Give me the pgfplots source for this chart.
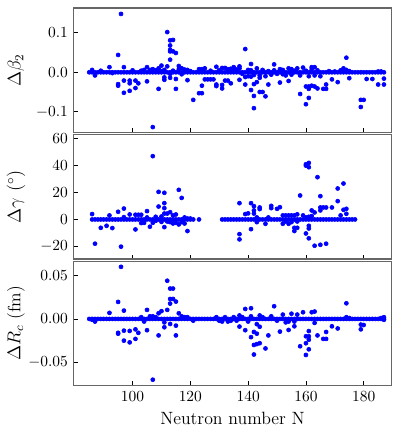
\documentclass[border=0pt]{standalone}
\usepackage{pgfplots}
\pgfplotsset{compat=1.18}
\usepgfplotslibrary{groupplots}

\begin{document}
\begin{tikzpicture}
\pgfplotsset{dot/.style={only marks, mark=*, mark size=1.3pt, color=blue, mark options={draw=none, fill=blue}}}
\begin{groupplot}[
    group style={group size=1 by 3, vertical sep=1.3pt, xticklabels at=edge bottom},
    width=206pt, height=80.6pt, scale only axis,
    xmin=79.5, xmax=189.7,
    xtick={100,120,140,160,180},
    tick align=inside, tick pos=left,
    major tick length=2.8pt,
    axis line style={black!60, line width=0.9pt},
    every tick/.style={black, line width=0.5pt},
    label style={font=\fontsize{11.5}{13}\selectfont},
    ylabel style={at={(axis description cs:-0.18,0.5)}, anchor=center},
    scaled y ticks=false,
]
% top: delta beta_2
\nextgroupplot[ymin=-0.153, ymax=0.163, ytick={-0.1,0,0.1},
    yticklabel style={/pgf/number format/fixed, /pgf/number format/fixed zerofill, /pgf/number format/precision=1},
    ylabel={$\Delta\beta_2$}]
\addplot[dot] coordinates {
(85,0)(86,0)(87,0)(88,0)(89,0)(90,0)(91,0)(92,0)(93,0)(94,0)(95,0)(96,0)(97,0)(98,0)(99,0)
(100,0)(101,0)(102,0)(103,0)(104,0)(105,0)(106,0)(107,0)(108,0)(109,0)(110,0)(111,0)(112,0)(113,0)(114,0)
(115,0)(116,0)(117,0)(118,0)(119,0)(120,0)(121,0)(122,0)(123,0)(124,0)(125,0)(126,0)(127,0)(128,0)(129,0)
(130,0)(131,0)(132,0)(133,0)(134,0)(135,0)(136,0)(137,0)(138,0)(139,0)(140,0)(141,0)(142,0)(143,0)(144,0)
(145,0)(146,0)(147,0)(148,0)(149,0)(150,0)(151,0)(152,0)(153,0)(154,0)(155,0)(156,0)(157,0)(158,0)(159,0)
(160,0)(161,0)(162,0)(163,0)(164,0)(165,0)(166,0)(167,0)(168,0)(169,0)(170,0)(171,0)(172,0)(173,0)(174,0)
(175,0)(176,0)(177,0)(178,0)(179,0)(180,0)(181,0)(182,0)(183,0)(184,0)(185,0)(186,0)(187,0)
};
\addplot[dot] coordinates {
(86,0.006)(87,-0.008)(89,0.004)(92,0.013)(95,0.044)(95,-0.030)(95,-0.034)(96,0.148)(97,0.013)(97,-0.021)
(97,-0.052)(99,-0.021)(99,-0.028)(99,-0.047)(101,-0.021)(101,-0.040)(102,-0.028)(103,0.004)(105,0.013)(105,-0.023)
(107,-0.139)(107,0.008)(109,-0.042)(109,0.010)(110,0.017)(111,-0.013)(111,-0.019)(112,0.102)(112,0.015)(113,0.068)
(113,0.057)(113,0.032)(113,-0.014)(113,0.081)(114,0.082)(113,0.053)(114,0.053)(115,0.049)(115,-0.042)(115,-0.017)
(116,0.016)(119,-0.020)(121,-0.070)(123,-0.053)(124,-0.053)(124,-0.034)(123,0.008)(124,0.008)(125,-0.018)(126,-0.018)
(127,-0.018)(128,-0.018)(129,0.014)(129,-0.031)(129,-0.035)(131,-0.041)(131,-0.032)(132,-0.021)(133,-0.021)(134,-0.028)
(131,0.011)(132,0.011)(135,0.013)(137,-0.019)(137,0.015)(139,0.059)(139,-0.031)(141,0.021)(141,-0.011)(141,-0.045)
(142,-0.060)(142,-0.091)(142,-0.030)(143,-0.025)(144,-0.050)(145,-0.050)(144,-0.014)(146,-0.061)(147,-0.031)(149,0.020)
(151,-0.026)(154,-0.022)(155,0.008)(158,-0.055)(159,0.012)(160,-0.036)(161,-0.036)(161,-0.042)(160,-0.081)(161,-0.065)
(162,0.013)(163,0.013)(162,-0.034)(163,-0.036)(164,-0.041)(166,-0.042)(167,-0.042)(167,-0.031)(169,-0.018)(171,-0.025)
(174,0.037)(175,-0.015)(179,-0.070)(180,-0.070)(179,-0.088)(181,-0.017)(183,-0.017)(185,-0.031)(187,-0.016)(187,-0.031)
(93,-0.002)(100,0.005)(104,0.006)(106,0.006)(108,0.005)(110,0.003)(111,0.006)(113,-0.004)(114,0.004)(116,0.008)
(117,0.010)(117,-0.005)(118,0.007)(119,0.006)(120,0.003)(125,0.010)(127,0.004)(130,0.005)(133,0.008)(134,0.009)
(135,0.004)(136,0.007)(137,0.010)(138,-0.004)(139,-0.012)(140,0.006)(140,-0.010)(141,0.005)(142,-0.007)(143,0.010)
(144,-0.008)(145,0.006)(146,-0.010)(147,0.003)(148,-0.006)(149,0.005)(150,-0.004)(151,0.008)(152,-0.005)(152,0.006)
(153,-0.008)(154,0.010)(155,-0.006)(156,0.004)(157,0.010)(158,-0.008)(160,0.004)(161,-0.010)(162,0.008)(163,-0.008)
(164,0.005)(165,-0.010)(168,0.003)(170,0.002)(172,0.005)(173,0.010)(174,0.006)(175,0.003)(185,0.002)(186,0.002)
};
% middle: delta gamma
\nextgroupplot[ymin=-29.5, ymax=63, ytick={-20,0,20,40,60},
    ylabel={$\Delta\gamma$ $(^\circ)$}]
\addplot[dot] coordinates {
(86,0)(87,0)(88,0)(89,0)(90,0)(91,0)(92,0)(93,0)(94,0)(95,0)(96,0)(97,0)(98,0)(99,0)
(100,0)(101,0)(102,0)(103,0)(104,0)(105,0)(106,0)(107,0)(108,0)(109,0)(110,0)(111,0)(112,0)(113,0)(114,0)
(115,0)(116,0)(117,0)(118,0)(119,0)(120,0)(121,0)(123,0)
(131,0)(132,0)(133,0)(134,0)(135,0)(136,0)(137,0)(138,0)(139,0)(140,0)(141,0)(142,0)(143,0)(144,0)
(145,0)(146,0)(147,0)(148,0)(149,0)(150,0)(151,0)(152,0)(153,0)(154,0)(155,0)(156,0)(157,0)(158,0)(159,0)
(160,0)(161,0)(162,0)(163,0)(164,0)(165,0)(166,0)(167,0)(168,0)(169,0)(170,0)(171,0)(172,0)(173,0)(174,0)
(175,0)(176,0)(177,0)
};
\addplot[dot] coordinates {
(86,4.0)(87,-18)(89,-6.2)(91,-4.7)(92,3.0)(93,-6.4)(95,5.7)(96,-20.2)(97,8.1)(97,1.7)
(99,3.7)(101,-7.4)(101,3.5)(102,3.5)(103,3.5)(103,-2.7)(105,6.2)(105,1.5)(106,-5.4)(107,47)
(107,-2.5)(108,2)(109,9.6)(109,20.5)(110,2.2)(110,-1.8)(111,19.8)(111,12.1)(111,8.4)(111,-5.7)
(111,4.4)(112,4.4)(113,5.4)(114,3.0)(115,3.7)(116,22)(117,16)(117,-2)(116,-3.7)(119,-8.6)
(119,0.7)(120,0.7)(112,-1.5)(113,-2)(114,-3)(115,-2.5)(118,-3)(118,1.5)(108,-1)(104,-2.5)
(137,12.1)(137,-10.9)(137,-14.8)(139,4)(140,4.5)(141,12.1)(141,-7.2)(142,9.9)(142,6.7)(142,4.4)
(143,1.5)(144,8.9)(144,7.7)(143,-2)(146,-3.2)(147,1.5)(148,10.1)(148,8.4)(150,7.9)(151,9.1)
(152,3)(153,3)(154,3)(155,3)(156,3)(157,3.8)(152,-3.2)(154,-3.2)(156,-6.2)(156,-8.6)
(157,-6.2)(155,-2)(158,17.8)(159,3)(160,-10.4)(161,-14)(160,41)(161,42)(160,40)(161,38.8)
(161,-4.7)(161,-6.7)(161,2)(160,1.5)(162,6.7)(162,2.5)(163,5.2)(163,-19.5)(164,31.4)(165,17.3)
(165,8.9)(165,6.7)(165,-18.8)(166,8.9)(167,8.9)(167,-18)(169,8.9)(171,23)(171,13.6)(173,26.7)
(173,7.2)(174,7.9)(172,3)(174,4.2)(153,-1.5)(157,-1.5)
};
% bottom: delta R_c
\nextgroupplot[ymin=-0.077, ymax=0.0665, ytick={-0.05,0,0.05},
    yticklabel style={/pgf/number format/fixed, /pgf/number format/fixed zerofill, /pgf/number format/precision=2},
    ylabel={$\Delta R_c$ (fm)}, xlabel={Neutron number N}]
\addplot[dot] coordinates {
(85,0)(86,0)(87,0)(88,0)(89,0)(90,0)(91,0)(92,0)(93,0)(94,0)(95,0)(96,0)(97,0)(98,0)(99,0)
(100,0)(101,0)(102,0)(103,0)(104,0)(105,0)(106,0)(107,0)(108,0)(109,0)(110,0)(111,0)(112,0)(113,0)(114,0)
(115,0)(116,0)(117,0)(118,0)(119,0)(120,0)(121,0)(122,0)(123,0)(124,0)(125,0)(126,0)(127,0)(128,0)(129,0)
(130,0)(131,0)(132,0)(133,0)(134,0)(135,0)(136,0)(137,0)(138,0)(139,0)(140,0)(141,0)(142,0)(143,0)(144,0)
(145,0)(146,0)(147,0)(148,0)(149,0)(150,0)(151,0)(152,0)(153,0)(154,0)(155,0)(156,0)(157,0)(158,0)(159,0)
(160,0)(161,0)(162,0)(163,0)(164,0)(165,0)(166,0)(167,0)(168,0)(169,0)(170,0)(171,0)(172,0)(173,0)(174,0)
(175,0)(176,0)(177,0)(178,0)(179,0)(180,0)(181,0)(182,0)(183,0)(184,0)(185,0)(186,0)(187,0)
};
\addplot[dot] coordinates {
(86,-0.001)(87,-0.003)(92,0.007)(95,0.0196)(95,-0.016)(95,-0.017)(96,0.060)(97,0.0096)(97,-0.0135)(97,-0.025)
(99,-0.0138)(99,-0.027)(101,-0.012)(101,-0.023)(102,-0.016)(103,0.002)(104,-0.003)(105,0.0104)(105,-0.013)(106,0.003)
(107,-0.070)(107,0.003)(108,0.002)(109,-0.019)(109,0.0065)(110,0.009)(111,-0.0096)(111,-0.004)(112,0.044)(112,0.0104)
(113,0.035)(114,0.035)(113,0.023)(114,0.023)(113,0.0177)(115,0.020)(115,-0.019)(115,-0.0077)(116,0.0065)(113,-0.0058)
(117,0.003)(118,0.002)(119,0.002)(121,-0.002)(129,0.002)(130,-0.002)(131,-0.003)(132,0.002)(133,-0.003)(134,-0.002)
(135,0.002)(136,-0.002)(137,0.004)(137,-0.0088)(138,0.002)(139,0.0115)(139,-0.013)(140,-0.003)(141,0.0123)(141,-0.021)
(141,0.003)(142,-0.015)(142,-0.041)(142,-0.030)(143,-0.029)(144,-0.028)(143,-0.017)(143,-0.006)(144,-0.009)(144,0.004)
(145,0.002)(146,-0.034)(147,-0.019)(148,0.003)(149,0.0146)(150,-0.002)(151,-0.0146)(152,0.005)(153,-0.004)(154,-0.0127)
(154,-0.003)(155,0.006)(156,-0.0085)(156,-0.003)(157,0.005)(158,-0.0315)(159,0.0077)(160,-0.0415)(160,-0.020)(160,-0.028)
(161,-0.020)(161,-0.014)(161,-0.035)(161,-0.024)(162,0.0077)(163,0.0085)(163,-0.0046)(164,-0.019)(166,-0.023)(167,-0.023)
(167,-0.015)(169,-0.0085)(171,-0.011)(174,0.018)(174,0.002)(175,0.001)(179,-0.0065)(179,-0.012)(180,-0.007)(186,0.001)
(187,0.002)(187,-0.001)
};
\end{groupplot}
\path (group c1r1.north west) ++(-73*0.65pt, 8*0.65pt) coordinate (bbtl);
\path (group c1r3.south east) ++(9*0.65pt, -49*0.65pt) coordinate (bbbr);
\path (bbtl) rectangle (bbbr);
\end{tikzpicture}
\end{document}
